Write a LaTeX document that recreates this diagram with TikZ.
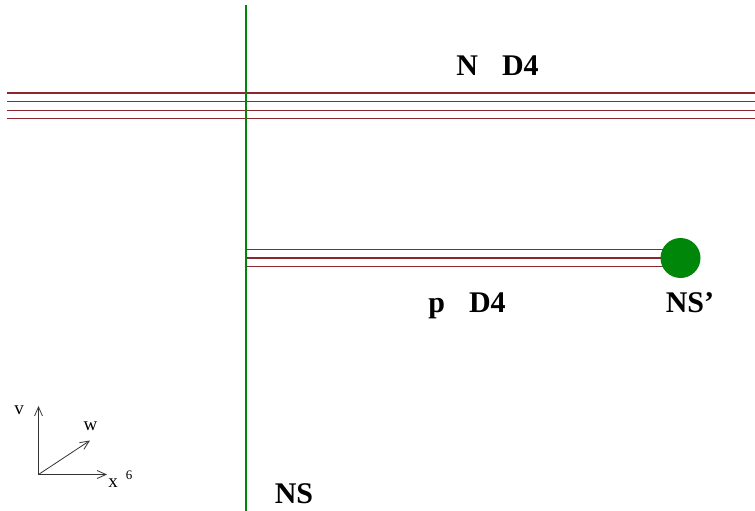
\documentclass[tikz,border=0pt]{standalone}
\usepackage{fontspec}
\setmainfont{Liberation Serif}
\usepackage{tikz}
\usetikzlibrary{arrows.meta}
\definecolor{ns}{RGB}{0, 135, 10}
\definecolor{dd}{RGB}{140, 40, 45}

\begin{document}
\begin{tikzpicture}[every node/.style={inner sep=0pt}]
\useasboundingbox (0pt, 0pt) rectangle (755pt, -511pt);
\coordinate (t) at (246.0pt, -5.0pt);
\coordinate (b) at (246.0pt, -511.0pt);
\coordinate (a1) at (7.0pt, -93.0pt);
\coordinate (a2) at (7.0pt, -101.5pt);
\coordinate (a3) at (7.0pt, -110.5pt);
\coordinate (a4) at (7.0pt, -118.5pt);
\coordinate (b1) at (755.0pt, -93.0pt);
\coordinate (b2) at (755.0pt, -101.5pt);
\coordinate (b3) at (755.0pt, -110.5pt);
\coordinate (b4) at (755.0pt, -118.5pt);
\coordinate (c1) at (246.0pt, -249.5pt);
\coordinate (c2) at (246.0pt, -258.0pt);
\coordinate (c3) at (246.0pt, -266.5pt);
\coordinate (d1) at (672.0pt, -249.5pt);
\coordinate (d2) at (672.0pt, -258.0pt);
\coordinate (d3) at (672.0pt, -266.5pt);
\draw [line width=1.1pt, color=dd] (a1) to (b1);
\draw [line width=1.1pt, color=dd] (a2) to (b2);
\draw [line width=1.1pt, color=dd] (a3) to (b3);
\draw [line width=1.1pt, color=dd] (a4) to (b4);
\draw [line width=1.1pt, color=dd] (c1) to (d1);
\draw [line width=1.1pt, color=dd] (c2) to (d2);
\draw [line width=1.1pt, color=dd] (c3) to (d3);
\node (s) [circle, minimum size=40pt, fill=ns] at (680.5pt, -258.0pt) {};
\draw [line width=2pt, color=ns] (t) to (b);
\node (nd) [anchor=base, font=\fontsize{30}{32}\selectfont\bfseries] at (497.5pt, -75.0pt) {N\hspace{24pt}D4};
\node (pd) [anchor=base, font=\fontsize{30}{32}\selectfont\bfseries] at (467.0pt, -312.0pt) {p\hspace{24pt}D4};
\node (np) [anchor=base, font=\fontsize{30}{32}\selectfont\bfseries] at (690.0pt, -312.0pt) {NS'};
\node (n) [anchor=base, font=\fontsize{30}{32}\selectfont\bfseries] at (294.0pt, -503.0pt) {NS};
\coordinate (o) at (38.5pt, -474.5pt);
\coordinate (ov) at (38.5pt, -406.0pt);
\coordinate (ow) at (90.0pt, -440.5pt);
\coordinate (ox) at (107.0pt, -474.5pt);
\draw [line width=0.8pt, color=black!80, -{Straight Barb[length=9pt, width=8pt]}] (o) to (ov);
\draw [line width=0.8pt, color=black!80, -{Straight Barb[length=9pt, width=8pt]}] (o) to (ow);
\draw [line width=0.8pt, color=black!80, -{Straight Barb[length=9pt, width=8pt]}] (o) to (ox);
\node (v) [font=\fontsize{19}{20}\selectfont] at (19.0pt, -410.0pt) {v};
\node (w) [font=\fontsize{19}{20}\selectfont] at (90.5pt, -426.0pt) {w};
\node (x) [font=\fontsize{19}{20}\selectfont] at (113.0pt, -483.0pt) {x};
\node (six) [font=\fontsize{13}{14}\selectfont] at (129.0pt, -475.0pt) {6};
\end{tikzpicture}
\end{document}
